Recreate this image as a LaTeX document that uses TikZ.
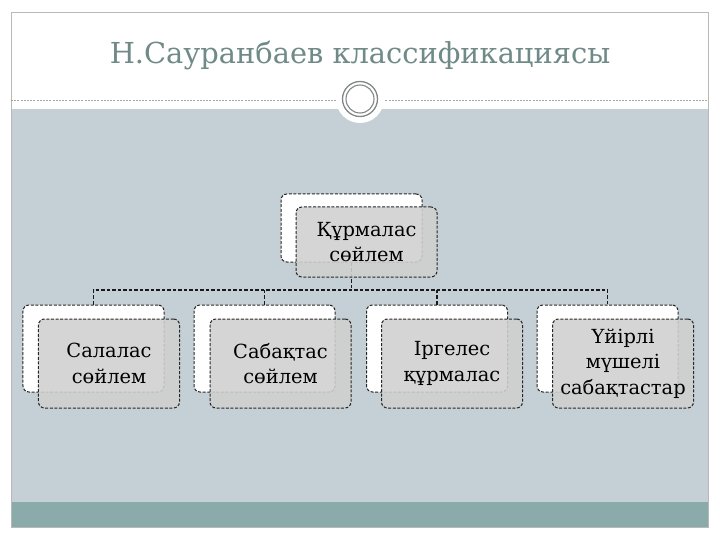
\documentclass[tikz,border=0pt]{standalone}
\usepackage{fontspec}
\setmainfont{DejaVu Serif}
\usetikzlibrary{backgrounds}
\definecolor{slate}{RGB}{197,208,214}
\definecolor{tealbar}{RGB}{138,171,170}
\definecolor{titlecol}{RGB}{111,138,135}
\definecolor{frontfill}{RGB}{208,208,208}
\definecolor{ringcol}{RGB}{130,135,135}
\begin{document}
\begin{tikzpicture}[x=1bp,y=-1bp,
  backbox/.style={draw=black!85, dash pattern=on 3bp off 1.6bp, line width=1bp,
    fill=white, rounded corners=6bp, minimum width=141bp, inner sep=0pt},
  frontbox/.style={draw=black!85, dash pattern=on 3bp off 1.6bp, line width=1bp,
    fill=frontfill, fill opacity=0.88, text opacity=1, rounded corners=6bp,
    minimum width=141bp, inner sep=0pt, align=center,
    font=\fontsize{19.5}{25.5}\selectfont, text=black},
  conn/.style={draw=black!90, dash pattern=on 3.5bp off 2bp, line width=1.8bp}]
\useasboundingbox (0,0) rectangle (720,540);
% nodes
\node[backbox, minimum height=68bp] (topB) at (351.5,228) {};
\node[frontbox, minimum height=70bp] (topF) at (366.5,242) {Құрмалас\\сөйлем};
\node[backbox, minimum height=87bp] (aB) at (93.5,348.5) {};
\node[frontbox, minimum height=89bp] (aF) at (109,363.5) {Салалас\\сөйлем};
\node[backbox, minimum height=87bp] (bB) at (264.5,348.5) {};
\node[frontbox, minimum height=89bp] (bF) at (280.5,363.5) {Сабақтас\\сөйлем};
\node[backbox, minimum height=87bp] (cB) at (437,348.5) {};
\node[frontbox, minimum height=89bp] (cF) at (452,363.5) {Іргелес\\құрмалас};
\node[backbox, minimum height=87bp] (dB) at (607.5,348.5) {};
\node[frontbox, minimum height=89bp] (dF) at (623,363.5) {Үйірлі\\мүшелі\\сабақтастар};
\begin{scope}[on background layer]
  \fill[white] (0,0) rectangle (720,540);
  \fill[slate] (11,109) rectangle (708,502);
  \fill[tealbar] (11,502) rectangle (708,527);
  \draw[gray!55, line width=0.8bp] (11,12) rectangle (708,527);
  \draw[gray!70, dash pattern=on 2bp off 1.2bp, line width=0.6bp] (11,100) -- (708,100);
  \fill[white] (360,99) circle (24);
  \draw[ringcol, line width=1.3bp] (360,99) circle (17.5);
  \draw[ringcol, line width=1.1bp] (360,99) circle (14);
  \node[text=titlecol, font=\fontsize{29}{34}\selectfont] (title) at (360,55) {Н.Сауранбаев классификациясы};
  \coordinate (bus) at (0,290);
  \draw[conn] (aB.north) |- (bus -| dB.north) -- (dB.north);
  \draw[conn] (topB.south) -- (topB.south |- bus);
  \draw[conn] (bB.north) -- (bB.north |- bus);
  \draw[conn] (cB.north) -- (cB.north |- bus);
\end{scope}
\end{tikzpicture}
\end{document}
